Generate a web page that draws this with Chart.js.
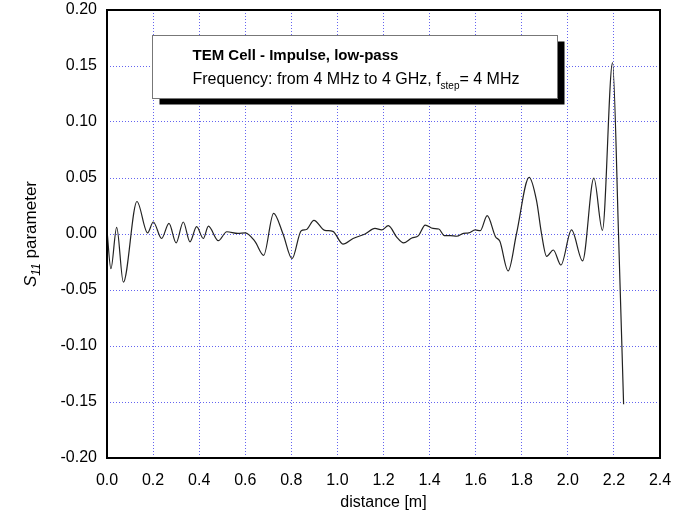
<!DOCTYPE html>
<html>
<head>
<meta charset="utf-8">
<script src="https://cdn.jsdelivr.net/npm/chart.js@4.4.1/dist/chart.umd.min.js"></script>
<style>
html,body{margin:0;padding:0;background:#fff;}
#wrap{width:695px;height:520px;}
</style>
</head>
<body>
<div id="wrap"><canvas id="c" width="695" height="520"></canvas></div>
<script>
// distance [m]
const distance = [0.0, 0.017, 0.042, 0.071, 0.130, 0.176, 0.201, 0.237, 0.269, 0.300, 0.331, 0.360, 0.389, 0.418, 0.440, 0.483, 0.520, 0.568, 0.600, 0.642, 0.680, 0.723, 0.764, 0.803, 0.843, 0.865, 0.898, 0.945, 0.980, 1.024, 1.068, 1.120, 1.163, 1.192, 1.221, 1.258, 1.287, 1.323, 1.352, 1.381, 1.415, 1.440, 1.464, 1.490, 1.518, 1.547, 1.570, 1.598, 1.620, 1.650, 1.686, 1.705, 1.741, 1.777, 1.832, 1.864, 1.886, 1.908, 1.937, 1.970, 2.016, 2.064, 2.113, 2.150, 2.194, 2.220, 2.242];
// S11 parameter
const s11 = [0.003, -0.031, 0.006, -0.043, 0.029, 0.001, 0.0107, -0.004, 0.0095, -0.008, 0.0107, -0.007, 0.0065, -0.004, 0.007, -0.006, 0.002, 0.0005, 0.001, -0.0065, -0.019, 0.0185, 0.0, -0.022, 0.003, 0.004, 0.0122, 0.0033, 0.0024, -0.009, -0.004, 0.0, 0.005, 0.0036, 0.0074, -0.003, -0.008, -0.0036, -0.0015, 0.008, 0.005, 0.0045, -0.0015, -0.0015, -0.002, 0.0006, 0.001, 0.0036, 0.003, 0.0164, -0.0024, -0.0065, -0.033, 0.0, 0.0506, 0.030, 0.0, -0.020, -0.0143, -0.0277, 0.0036, -0.024, 0.050, 0.0033, 0.153, 0.0, -0.152];
const xTicks = [0.0, 0.2, 0.4, 0.6, 0.8, 1.0, 1.2, 1.4, 1.6, 1.8, 2.0, 2.2, 2.4];
const yTicks = [-0.20, -0.15, -0.10, -0.05, 0.00, 0.05, 0.10, 0.15, 0.20];
const noteTitle = 'TEM Cell - Impulse, low-pass';
const noteLine = ['Frequency: from 4 MHz to 4 GHz, f', 'step', '= 4 MHz'];

const points = distance.map((d, i) => ({x: d, y: s11[i]}));
const FONT = 'Liberation Sans, Arial, sans-serif';
const GRID = 'rgb(100,100,240)';

const frameAndNotes = {
  id: 'frameAndNotes',
  afterDatasetsDraw(chart) {
    const ctx = chart.ctx, a = chart.chartArea;
    const xs = chart.scales.x, ys = chart.scales.y;
    ctx.save();
    // annotation box
    const bx = Math.round(xs.getPixelForValue(0.196)) + 0.5;
    const by = Math.round(ys.getPixelForValue(0.178)) + 0.5;
    const bw = Math.round(xs.getPixelForValue(1.953) - bx);
    const bh = Math.round(ys.getPixelForValue(0.121) - by);
    ctx.fillStyle = '#000';
    ctx.fillRect(bx + 7, by + 6, bw, bh);
    ctx.fillStyle = '#fff';
    ctx.fillRect(bx, by, bw, bh);
    ctx.strokeStyle = '#777';
    ctx.lineWidth = 1;
    ctx.strokeRect(bx, by, bw, bh);
    ctx.fillStyle = '#000';
    ctx.textBaseline = 'alphabetic';
    ctx.textAlign = 'left';
    ctx.font = 'bold 15px ' + FONT;
    ctx.fillText(noteTitle, bx + 40, by + 24);
    ctx.font = '16px ' + FONT;
    let tx = bx + 40;
    ctx.fillText(noteLine[0], tx, by + 48);
    tx += ctx.measureText(noteLine[0]).width;
    ctx.font = '10px ' + FONT;
    ctx.fillText(noteLine[1], tx, by + 53);
    tx += ctx.measureText(noteLine[1]).width;
    ctx.font = '16px ' + FONT;
    ctx.fillText(noteLine[2], tx, by + 48);
    // plot frame
    ctx.strokeStyle = '#000';
    ctx.lineWidth = 2;
    ctx.strokeRect(a.left, a.top, a.right - a.left, a.bottom - a.top);
    // y axis title with subscript
    ctx.translate(30, (a.top + a.bottom) / 2);
    ctx.rotate(-Math.PI / 2);
    const p1 = 'S', p2 = '11', p3 = ' parameter';
    ctx.font = 'italic 17px ' + FONT;
    const w1 = ctx.measureText(p1).width;
    ctx.font = 'italic 12px ' + FONT;
    const w2 = ctx.measureText(p2).width;
    ctx.font = '17px ' + FONT;
    const w3 = ctx.measureText(p3).width;
    let sx = -(w1 + w2 + w3) / 2;
    ctx.font = 'italic 17px ' + FONT;
    ctx.fillText(p1, sx, 6); sx += w1;
    ctx.font = 'italic 12px ' + FONT;
    ctx.fillText(p2, sx, 10); sx += w2;
    ctx.font = '17px ' + FONT;
    ctx.fillText(p3, sx, 6);
    ctx.restore();
  }
};

new Chart(document.getElementById('c'), {
  type: 'line',
  data: {
    datasets: [{
      data: points,
      borderColor: '#222',
      borderWidth: 1.2,
      pointRadius: 0,
      cubicInterpolationMode: 'monotone',
      fill: false
    }]
  },
  options: {
    responsive: false,
    animation: false,
    devicePixelRatio: 1,
    layout: {padding: {left: 0, right: 35, top: 10, bottom: 0}},
    plugins: {legend: {display: false}, tooltip: {enabled: false}},
    scales: {
      x: {
        type: 'linear', min: 0, max: 2.4,
        afterBuildTicks: s => { s.ticks = xTicks.map(v => ({value: v})); },
        afterFit: s => { s.height = 62; s.paddingLeft = 0; s.paddingRight = 0; },
        ticks: {color: '#000', font: {family: FONT, size: 16}, padding: 13, maxRotation: 0,
          callback: v => Number(v).toFixed(1)},
        grid: {color: GRID, lineWidth: 1, drawTicks: false},
        border: {display: false, dash: [1, 2]},
        title: {display: true, text: 'distance [m]', color: '#000', font: {family: FONT, size: 16}, padding: {top: 0, bottom: 8}}
      },
      y: {
        type: 'linear', min: -0.2, max: 0.2,
        afterBuildTicks: s => { s.ticks = yTicks.map(v => ({value: v})); },
        afterFit: s => { s.width = 107; s.paddingTop = 0; s.paddingBottom = 0; },
        ticks: {color: '#000', font: {family: FONT, size: 16}, padding: 10,
          callback: v => Number(v).toFixed(2)},
        grid: {color: GRID, lineWidth: 1, drawTicks: false},
        border: {display: false, dash: [1, 2]}
      }
    }
  },
  plugins: [frameAndNotes]
});
</script>
</body>
</html>
